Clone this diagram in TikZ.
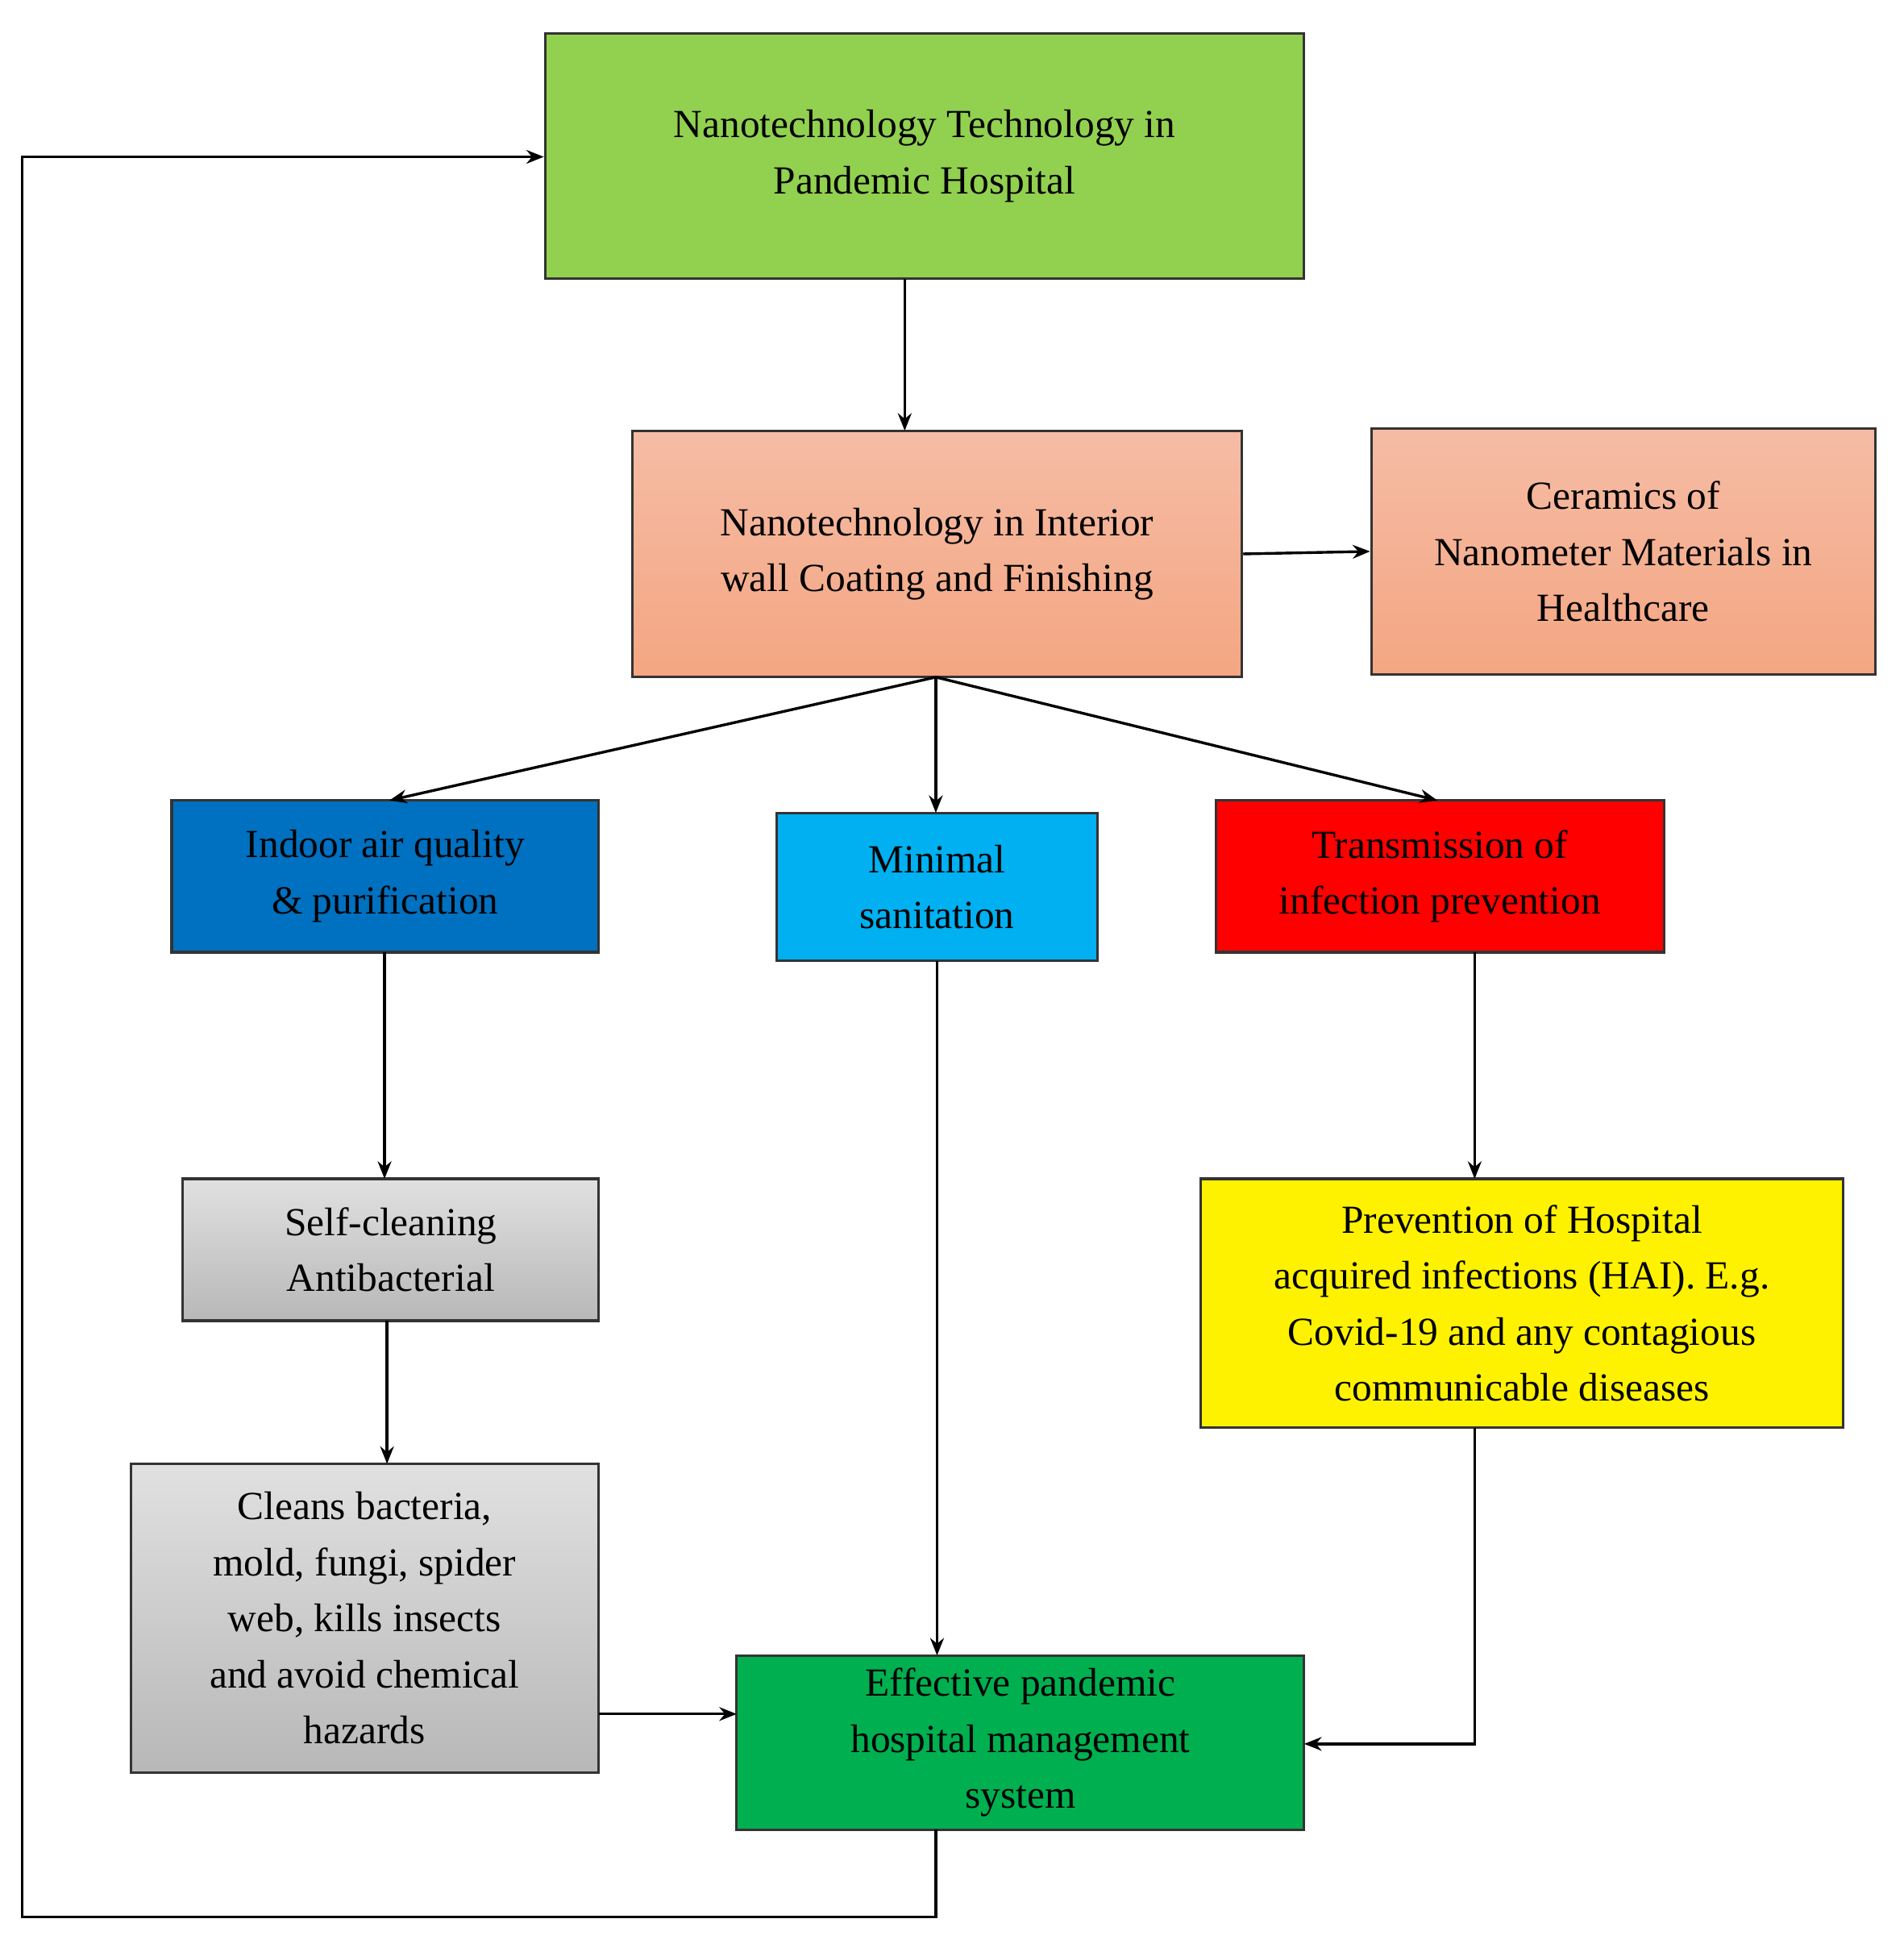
\documentclass[tikz,border=0pt]{standalone}
\usepackage{fontspec}
\setmainfont{Liberation Serif}
\usetikzlibrary{arrows.meta}
\definecolor{lgreen}{HTML}{92D050}
\definecolor{dgreen}{HTML}{00B050}
\definecolor{dblue}{HTML}{0070C0}
\definecolor{lblue}{HTML}{00B0F0}
\begin{document}
\begin{tikzpicture}[x=1pt,y=-1pt,
 box/.style={draw=black!80,line width=2pt,align=center,inner sep=0pt,font=\fontsize{32}{45}\selectfont},
 sal/.style={box,top color={rgb,255:red,245;green,188;blue,165},bottom color={rgb,255:red,244;green,166;blue,130}},
 gry/.style={box,top color=black!12,bottom color=black!28},
 arr/.style={line width=2.2pt,-{Stealth[length=14pt,width=11pt]}}]
\useasboundingbox (0,0) rectangle (1530,1565);
\newcommand\bx[6]{\node[#2,minimum width=#5-#3,minimum height=#6-#4] (#1) at ({(#3+#5)/2},{(#4+#6)/2}) {};}
\bx{top}{box,fill=lgreen}{438}{27}{1048}{224}
\node[font=\fontsize{32}{45}\selectfont,align=center] at (top) {Nanotechnology Technology in\\Pandemic Hospital};
\bx{wall}{sal}{508}{346}{998}{544}
\node[font=\fontsize{32}{45}\selectfont,align=center] at (wall) {Nanotechnology in Interior\\wall Coating and Finishing};
\bx{cer}{sal}{1102}{344}{1507}{542}
\node[font=\fontsize{32}{45}\selectfont,align=center] at (cer) {Ceramics of\\Nanometer Materials in\\Healthcare};
\bx{air}{box,fill=dblue}{138}{643}{481}{765}
\node[font=\fontsize{32}{45}\selectfont,align=center] at (air) {Indoor air quality\\\& purification};
\bx{min}{box,fill=lblue}{624}{653}{882}{772}
\node[font=\fontsize{32}{45}\selectfont,align=center] at (min) {Minimal\\sanitation};
\bx{tra}{box,fill=red}{977}{643}{1337}{765}
\node[font=\fontsize{32}{45}\selectfont,align=center] at (tra) {Transmission of\\infection prevention};
\bx{self}{gry}{147}{947}{481}{1061}
\node[font=\fontsize{32}{45}\selectfont,align=center] at (self) {Self-cleaning\\Antibacterial};
\bx{cle}{gry}{105}{1176}{481}{1424}
\node[font=\fontsize{32}{45}\selectfont,align=center] at (cle) {Cleans bacteria,\\mold, fungi, spider\\web, kills insects\\and avoid chemical\\hazards};
\bx{pre}{box,fill=yellow}{965}{947}{1481}{1147}
\node[font=\fontsize{32}{45}\selectfont,align=center] at (pre) {Prevention of Hospital\\acquired infections (HAI). E.g.\\Covid-19 and any contagious\\communicable diseases};
\bx{eff}{box,fill=dgreen}{592}{1330}{1048}{1470}
\node[font=\fontsize{32}{45}\selectfont,align=center] at (eff) {Effective pandemic\\hospital management\\system};
\coordinate (ws) at (752,544);
\draw[arr] (727,224) -- (727,346);
\draw[arr] (wall.east) -- (cer.west);
\draw[arr] (ws) -- (313,643);
\draw[arr] (ws) -- (752,653);
\draw[arr] (ws) -- (1155,643);
\draw[arr] (309,765) -- (309,947);
\draw[arr] (311,1061) -- (311,1176);
\draw[arr] (481,1377) -- (592,1377);
\draw[arr] (753,772) -- (753,1330);
\draw[arr] (1185,765) -- (1185,947);
\draw[arr] (1185,1147) -- (1185,1401) -- (1048,1401);
\draw[arr] (752,1470) -- (752,1540) -- (18,1540) -- (18,126) -- (top.west |- 0,126);
\end{tikzpicture}
\end{document}
